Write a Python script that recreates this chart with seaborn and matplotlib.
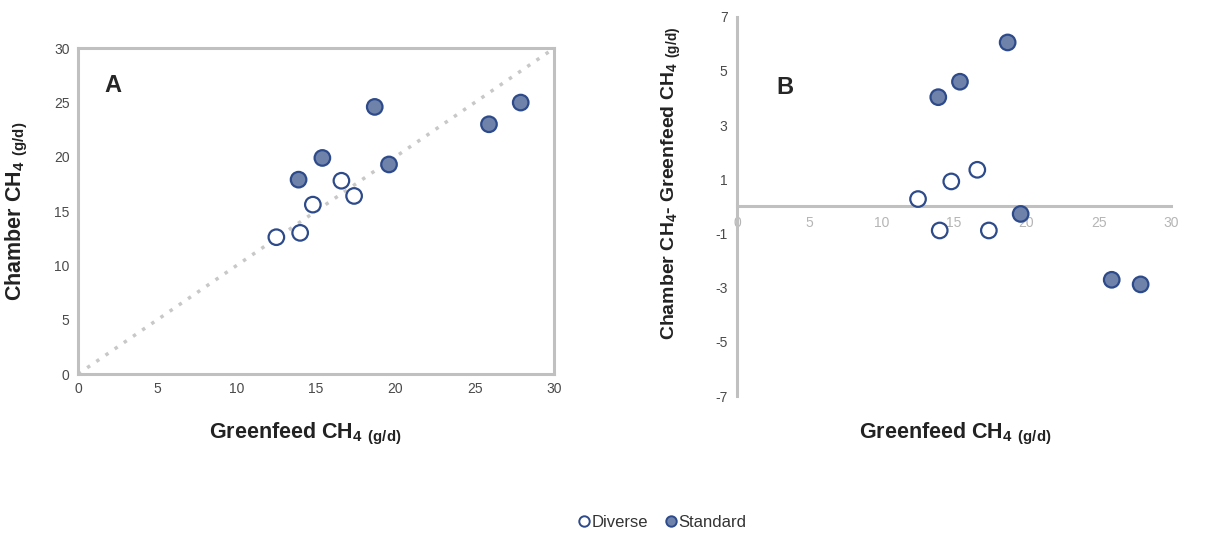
import matplotlib
matplotlib.use('Agg')
import matplotlib.pyplot as plt
from matplotlib.lines import Line2D
import pandas as pd
import seaborn as sns

# values
diverse_greenfeed = [12.5, 14.0, 14.8, 16.6, 17.4]
diverse_chamber = [12.6, 13.0, 15.6, 17.8, 16.4]
diverse_diff = [0.27, -0.89, 0.92, 1.35, -0.89]

standard_greenfeed = [13.9, 15.4, 18.7, 19.6, 25.9, 27.9]
standard_chamber = [17.9, 19.9, 24.6, 19.3, 23.0, 25.0]
standard_diff = [4.03, 4.6, 6.05, -0.28, -2.71, -2.88]

groups = ['Diverse', 'Standard']
xticks = [0, 5, 10, 15, 20, 25, 30]
yticks_a = [0, 5, 10, 15, 20, 25, 30]
yticks_b = [-7, -5, -3, -1, 1, 3, 5, 7]

edge = '#2d4a8a'
fill = '#6f82aa'
grid_grey = '#c0c0c0'

df = pd.DataFrame({
    'greenfeed': diverse_greenfeed + standard_greenfeed,
    'chamber': diverse_chamber + standard_chamber,
    'diff': diverse_diff + standard_diff,
    'group': ['Diverse'] * len(diverse_greenfeed) + ['Standard'] * len(standard_greenfeed),
})
palette = {'Diverse': 'white', 'Standard': fill}

sns.set_theme(style='white')
plt.rcParams['font.family'] = ['Liberation Sans', 'DejaVu Sans']
plt.rcParams['mathtext.fontset'] = 'custom'
plt.rcParams['mathtext.rm'] = 'Liberation Sans'
plt.rcParams['mathtext.bf'] = 'Liberation Sans:bold'
plt.rcParams['axes.unicode_minus'] = False

fig = plt.figure(figsize=(12.19, 5.34), dpi=100)
axA = fig.add_axes([0.064, 0.2996, 0.3905, 0.610])
axB = fig.add_axes([0.6049, 0.2584, 0.3557, 0.7103])

# panel A: chamber vs greenfeed with 1:1 line
lim = (xticks[0], xticks[-1])
axA.plot(lim, lim, color='#c8c8c8', lw=2.5, ls=(0, (1, 2.2)), zorder=1)
sns.scatterplot(data=df, x='greenfeed', y='chamber', hue='group', palette=palette,
                edgecolor=edge, linewidth=1.6, s=125, legend=False, ax=axA, zorder=3)
axA.set_xlim(lim)
axA.set_ylim(yticks_a[0], yticks_a[-1])
axA.set_xticks(xticks)
axA.set_yticks(yticks_a)
for s in axA.spines.values():
    s.set_visible(True)
    s.set_color(grid_grey)
    s.set_linewidth(2.2)
axA.tick_params(length=0, labelsize=10, colors='#4a4a4a', pad=6)
axA.set_xlabel(r'Greenfeed CH$_\mathbf{4}$ $_\mathbf{(g/d)}$', fontsize=15.5, fontweight='bold', color='#222222')
axA.set_ylabel(r'Chamber CH$_\mathbf{4}$ $_\mathbf{(g/d)}$', fontsize=15.5, fontweight='bold', color='#222222')
axA.xaxis.set_label_coords(0.477, -0.145)
axA.yaxis.set_label_coords(-0.10, 0.50)
axA.text(0.055, 0.92, 'A', transform=axA.transAxes, fontsize=17, fontweight='bold', va='top')

# panel B: difference vs greenfeed
sns.scatterplot(data=df, x='greenfeed', y='diff', hue='group', palette=palette,
                edgecolor=edge, linewidth=1.6, s=125, legend=False, ax=axB, zorder=3,
                clip_on=False)
axB.set_xlim(lim)
axB.set_ylim(yticks_b[0], yticks_b[-1])
axB.set_xticks(xticks)
axB.set_yticks(yticks_b)
axB.spines['left'].set_position(('data', 0))
axB.spines['bottom'].set_position(('data', 0))
axB.spines['top'].set_visible(False)
axB.spines['right'].set_visible(False)
for side in ['left', 'bottom']:
    axB.spines[side].set_color(grid_grey)
    axB.spines[side].set_linewidth(2.2)
axB.tick_params(length=0, labelsize=10, pad=7)
axB.tick_params(axis='x', colors='#b5b5b5')
axB.tick_params(axis='y', colors='#4a4a4a')
axB.set_xlabel(r'Greenfeed CH$_\mathbf{4}$ $_\mathbf{(g/d)}$', fontsize=15.5, fontweight='bold', color='#222222')
axB.set_ylabel(r'Chamber CH$_\mathbf{4}$- Greenfeed CH$_\mathbf{4}$ $_\mathbf{(g/d)}$', fontsize=14,
               fontweight='bold', color='#222222')
axB.xaxis.set_label_coords(0.502, -0.065)
axB.yaxis.set_label_coords(-0.125, 0.56)
axB.text(0.09, 0.845, 'B', transform=axB.transAxes, fontsize=17, fontweight='bold', va='top')

# shared legend at the bottom
handles = [Line2D([], [], marker='o', ls='none', markersize=7.5, markerfacecolor=palette[g],
                  markeredgecolor=edge, markeredgewidth=1.4, label=g) for g in groups]
fig.legend(handles=handles, loc='center', bbox_to_anchor=(0.543, 0.022), ncol=2, frameon=False,
           fontsize=12, handletextpad=0.05, columnspacing=1.0, handlelength=0.8,
           labelcolor='#333333')

fig.savefig('out.png', dpi=100)
